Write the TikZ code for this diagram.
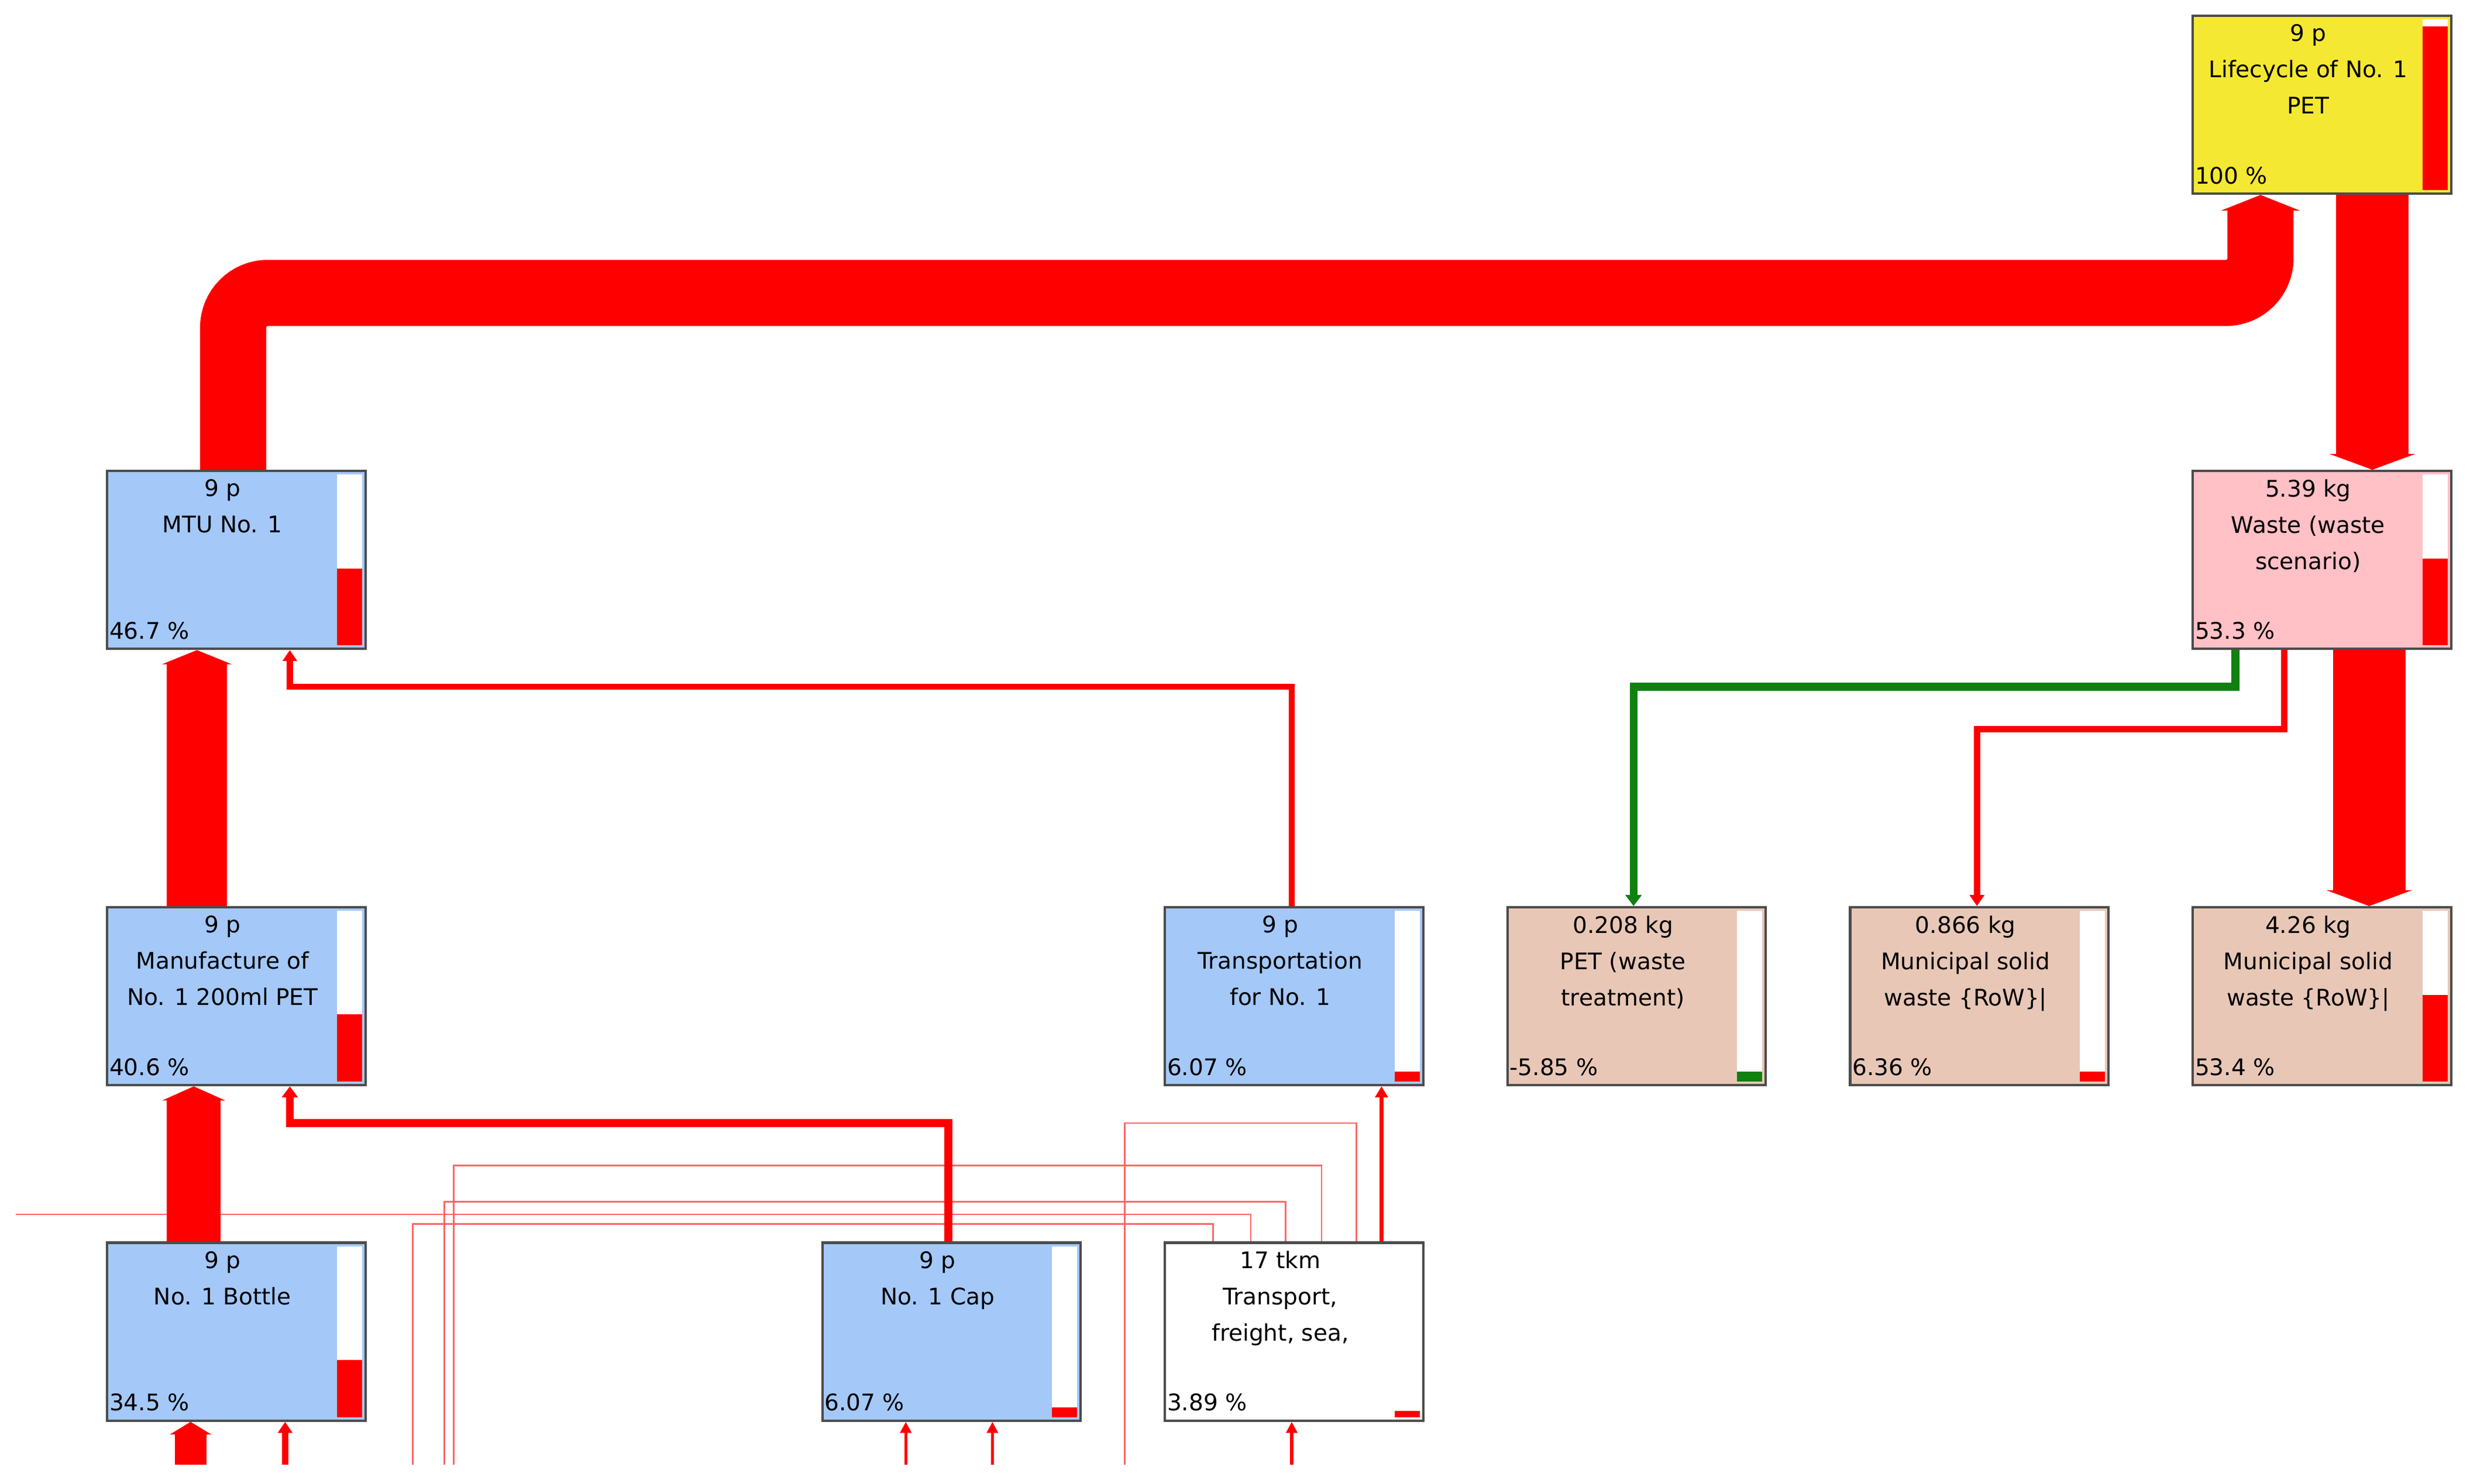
\documentclass[tikz,border=0pt]{standalone}
\usepackage{fontspec}
\setmainfont{DejaVu Sans}
\usetikzlibrary{arrows.meta,calc}

\definecolor{procblue}{HTML}{A4C8F8}
\definecolor{procyellow}{HTML}{F5E832}
\definecolor{procpink}{HTML}{FFC0C6}
\definecolor{proctan}{HTML}{E8C7B6}
\definecolor{flowred}{HTML}{FF0000}
\definecolor{flowgreen}{HTML}{108010}

\tikzset{
	box/.style={draw=gray!60!black,line width=1.5pt,minimum width=164pt,minimum height=113pt,inner sep=0pt},
	txt/.style={font=\fontsize{14.5}{23}\selectfont,inner sep=0pt},
	flow/.style={flowred,line width=#1},
	thin/.style={flowred!60,line width=1pt},
}

% name, centre x, centre y, fill, text, percentage, bar fraction, bar colour
\newcommand\procbox[8]{
	\node[box,fill=#4] (#1) at (#2,#3) {};
	\node[txt,align=center,anchor=north] at ($(#1.north west)+(74,6)$) {#5};
	\node[txt,anchor=base west] at ($(#1.south west)+(2,-7)$) {#6};
	\fill[white] ($(#1.north east)+(-19,3)$) rectangle ($(#1.south east)+(-3,-3)$);
	\fill[#8] ($(#1.south east)+(-19,-3)$) rectangle ($(#1.south east)+(-3,{-3-104*#7})$);
}

\begin{document}
\begin{tikzpicture}[x=1pt,y=-1pt]
	\useasboundingbox (0,0) rectangle (1568,942);

	% processes
	\procbox{life}{1474}{66.5}{procyellow}{9 p\\Lifecycle of No. 1\\PET}{100 \%}{1}{flowred}
	\procbox{mtu}{150}{355.5}{procblue}{9 p\\MTU No. 1}{46.7 \%}{.47}{flowred}
	\procbox{waste}{1474}{355.5}{procpink}{5.39 kg\\Waste (waste\\scenario)}{53.3 \%}{.53}{flowred}
	\procbox{manu}{150}{632.5}{procblue}{9 p\\Manufacture of\\No. 1 200ml PET}{40.6 \%}{.41}{flowred}
	\procbox{transp}{821.5}{632.5}{procblue}{9 p\\Transportation\\for No. 1}{6.07 \%}{.06}{flowred}
	\procbox{petw}{1039}{632.5}{proctan}{0.208 kg\\PET (waste\\treatment)}{-5.85 \%}{.06}{flowgreen}
	\procbox{msw}{1256.5}{632.5}{proctan}{0.866 kg\\Municipal solid\\waste \{RoW\}|}{6.36 \%}{.06}{flowred}
	\procbox{mswb}{1474}{632.5}{proctan}{4.26 kg\\Municipal solid\\waste \{RoW\}|}{53.4 \%}{.53}{flowred}
	\procbox{bottle}{150}{845.5}{procblue}{9 p\\No. 1 Bottle}{34.5 \%}{.35}{flowred}
	\procbox{cap}{604}{845.5}{procblue}{9 p\\No. 1 Cap}{6.07 \%}{.06}{flowred}
	\procbox{sea}{821.5}{845.5}{white}{17 tkm\\Transport,\\freight, sea,}{3.89 \%}{.04}{flowred}

	% thin flows from the sea transport
	\coordinate (edgeL) at (10,771);
	\draw[thin] (770,0 |- sea.north) |- (262,777) -- (262,930);
	\draw[thin] (794,0 |- sea.north) |- (edgeL);
	\draw[thin] (816,0 |- sea.north) |- (282,763) -- (282,930);
	\draw[thin] (839,0 |- sea.north) |- (288,740) -- (288,930);
	\draw[thin] (861,0 |- sea.north) |- (714,713) -- (714,930);

	% main flows
	\draw[flow=42pt,rounded corners=22pt,-{Triangle[width=50pt,length=10pt]}] (148,0 |- mtu.north) -- (148,186) -- (1435,186) -- (1435,0 |- life.south);
	\draw[flow=46pt,-{Triangle[width=54pt,length=10pt]}] (1506,0 |- life.south) -- (1506,0 |- waste.north);
	\draw[flow=38pt,-{Triangle[width=44pt,length=9pt]}] (125,0 |- manu.north) -- (125,0 |- mtu.south);
	\draw[flow=34pt,-{Triangle[width=40pt,length=9pt]}] (123,0 |- bottle.north) -- (123,0 |- manu.south);
	\draw[flow=46pt,-{Triangle[width=54pt,length=10pt]}] (1504,0 |- waste.south) -- (1504,0 |- mswb.north);
	\draw[flow=4pt,-{Triangle[width=9pt,length=7pt]}] (820,0 |- transp.north) |- (184,436) -- (184,0 |- mtu.south);
	\draw[flow=5pt,-{Triangle[width=10pt,length=7pt]}] (602,0 |- cap.north) |- (184,713) -- (184,0 |- manu.south);
	\draw[flow=2.5pt,-{Triangle[width=8pt,length=7pt]}] (877,0 |- sea.north) -- (877,0 |- transp.south);
	\draw[flowgreen,line width=5pt,-{Triangle[width=10pt,length=7pt]}] (1419,0 |- waste.south) |- (1037,436) -- (1037,0 |- petw.north);
	\draw[flow=4pt,-{Triangle[width=9pt,length=7pt]}] (1450,0 |- waste.south) |- (1255,463) -- (1255,0 |- msw.north);

	% inputs from below
	\coordinate (inA) at (121,930);
	\coordinate (inB) at (181,930);
	\coordinate (inC) at (575,930);
	\coordinate (inD) at (630,930);
	\coordinate (inE) at (820,930);
	\draw[flow=20pt,-{Triangle[width=26pt,length=8pt]}] (inA) -- (121,0 |- bottle.south);
	\draw[flow=4pt,-{Triangle[width=9pt,length=7pt]}] (inB) -- (181,0 |- bottle.south);
	\draw[flow=2pt,-{Triangle[width=7pt,length=7pt]}] (inC) -- (575,0 |- cap.south);
	\draw[flow=2pt,-{Triangle[width=7pt,length=7pt]}] (inD) -- (630,0 |- cap.south);
	\draw[flow=2pt,-{Triangle[width=7pt,length=7pt]}] (inE) -- (820,0 |- sea.south);
\end{tikzpicture}
\end{document}
